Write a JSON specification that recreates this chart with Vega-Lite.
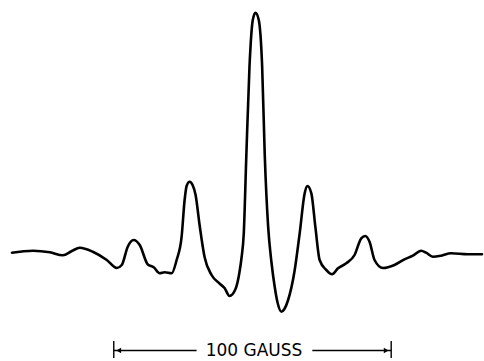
{
  "$schema": "https://vega.github.io/schema/vega-lite/v6.json",
  "width": 484,
  "height": 361,
  "autosize": {"type": "fit", "contains": "padding"},
  "padding": 0,
  "background": "white",
  "config": {"view": {"stroke": null}},
  "datasets": {
    "curve": [
      {"field": 12, "signal": 108.3}, {"field": 22, "signal": 109.5}, {"field": 33, "signal": 110.3},
      {"field": 50, "signal": 108.7}, {"field": 63, "signal": 105.7}, {"field": 72, "signal": 110},
      {"field": 80, "signal": 113.3}, {"field": 93, "signal": 109.3}, {"field": 107, "signal": 101},
      {"field": 117, "signal": 93}, {"field": 122, "signal": 96}, {"field": 128, "signal": 114.3},
      {"field": 134, "signal": 121}, {"field": 140, "signal": 116}, {"field": 148, "signal": 96.7},
      {"field": 154, "signal": 93.7}, {"field": 160, "signal": 87.7}, {"field": 165, "signal": 88.7},
      {"field": 172, "signal": 87.7}, {"field": 177, "signal": 101}, {"field": 182, "signal": 124.3},
      {"field": 185, "signal": 161}, {"field": 187, "signal": 175}, {"field": 190, "signal": 179.3},
      {"field": 193, "signal": 176}, {"field": 196, "signal": 166}, {"field": 200, "signal": 136},
      {"field": 205, "signal": 104}, {"field": 212, "signal": 86}, {"field": 220, "signal": 77.5},
      {"field": 225, "signal": 73}, {"field": 230, "signal": 65}, {"field": 236, "signal": 72},
      {"field": 240, "signal": 89}, {"field": 242, "signal": 103}, {"field": 244.3, "signal": 128},
      {"field": 246.7, "signal": 201}, {"field": 250, "signal": 294.3}, {"field": 253.3, "signal": 341},
      {"field": 256, "signal": 348.3}, {"field": 259.3, "signal": 341}, {"field": 262.7, "signal": 294.3},
      {"field": 265.3, "signal": 206}, {"field": 268.7, "signal": 134.3}, {"field": 272, "signal": 99},
      {"field": 275.3, "signal": 74}, {"field": 278, "signal": 59}, {"field": 282, "signal": 49.3},
      {"field": 285, "signal": 52}, {"field": 288.7, "signal": 61}, {"field": 295, "signal": 89},
      {"field": 300.3, "signal": 127.7}, {"field": 305.3, "signal": 167.7}, {"field": 308, "signal": 175},
      {"field": 312, "signal": 167.7}, {"field": 316, "signal": 134.3}, {"field": 320.3, "signal": 101},
      {"field": 327, "signal": 91}, {"field": 332.7, "signal": 86.7}, {"field": 338.7, "signal": 92.7},
      {"field": 347, "signal": 97.7}, {"field": 355.3, "signal": 106}, {"field": 362, "signal": 122.7},
      {"field": 366, "signal": 125}, {"field": 370.3, "signal": 119.3}, {"field": 375.3, "signal": 101},
      {"field": 383.7, "signal": 93}, {"field": 395.3, "signal": 96}, {"field": 405.3, "signal": 101.7},
      {"field": 413.7, "signal": 105.3}, {"field": 422, "signal": 110.3}, {"field": 427, "signal": 108.3},
      {"field": 433.7, "signal": 104.3}, {"field": 442, "signal": 105.3}, {"field": 452, "signal": 107.7},
      {"field": 468.7, "signal": 106.7}, {"field": 483, "signal": 106.7}
    ],
    "bar": [
      {"x": 114, "x2": 197, "y": 10.5, "y2": 10.5},
      {"x": 313, "x2": 392, "y": 10.5, "y2": 10.5},
      {"x": 114, "x2": 114, "y": 3, "y2": 20},
      {"x": 392, "x2": 392, "y": 3, "y2": 20}
    ],
    "arrows": [
      {"x": 119, "y": 10.5, "dir": "left"},
      {"x": 387, "y": 10.5, "dir": "right"}
    ],
    "label": [
      {"x": 254.5, "y": 10, "text": "100 GAUSS"}
    ]
  },
  "layer": [
    {
      "data": {"name": "curve"},
      "mark": {"type": "line", "interpolate": "monotone", "color": "black", "strokeWidth": 2.6, "strokeCap": "round", "strokeJoin": "round"},
      "encoding": {
        "x": {"field": "field", "type": "quantitative", "scale": {"domain": [0, 484], "nice": false, "zero": false}, "axis": null},
        "y": {"field": "signal", "type": "quantitative", "scale": {"domain": [0, 361], "nice": false, "zero": false}, "axis": null}
      }
    },
    {
      "data": {"name": "bar"},
      "mark": {"type": "rule", "color": "black", "strokeWidth": 1.4},
      "encoding": {
        "x": {"field": "x", "type": "quantitative"},
        "x2": {"field": "x2"},
        "y": {"field": "y", "type": "quantitative"},
        "y2": {"field": "y2"}
      }
    },
    {
      "data": {"name": "arrows"},
      "mark": {"type": "point", "filled": true, "color": "black", "opacity": 1, "size": 30},
      "encoding": {
        "x": {"field": "x", "type": "quantitative"},
        "y": {"field": "y", "type": "quantitative"},
        "shape": {"field": "dir", "type": "nominal", "scale": {"domain": ["left", "right"], "range": ["triangle-left", "triangle-right"]}, "legend": null}
      }
    },
    {
      "data": {"name": "label"},
      "mark": {"type": "text", "font": "DejaVu Sans", "fontSize": 17, "color": "black", "align": "center", "baseline": "middle"},
      "encoding": {
        "x": {"field": "x", "type": "quantitative"},
        "y": {"field": "y", "type": "quantitative"},
        "text": {"field": "text"}
      }
    }
  ]
}
